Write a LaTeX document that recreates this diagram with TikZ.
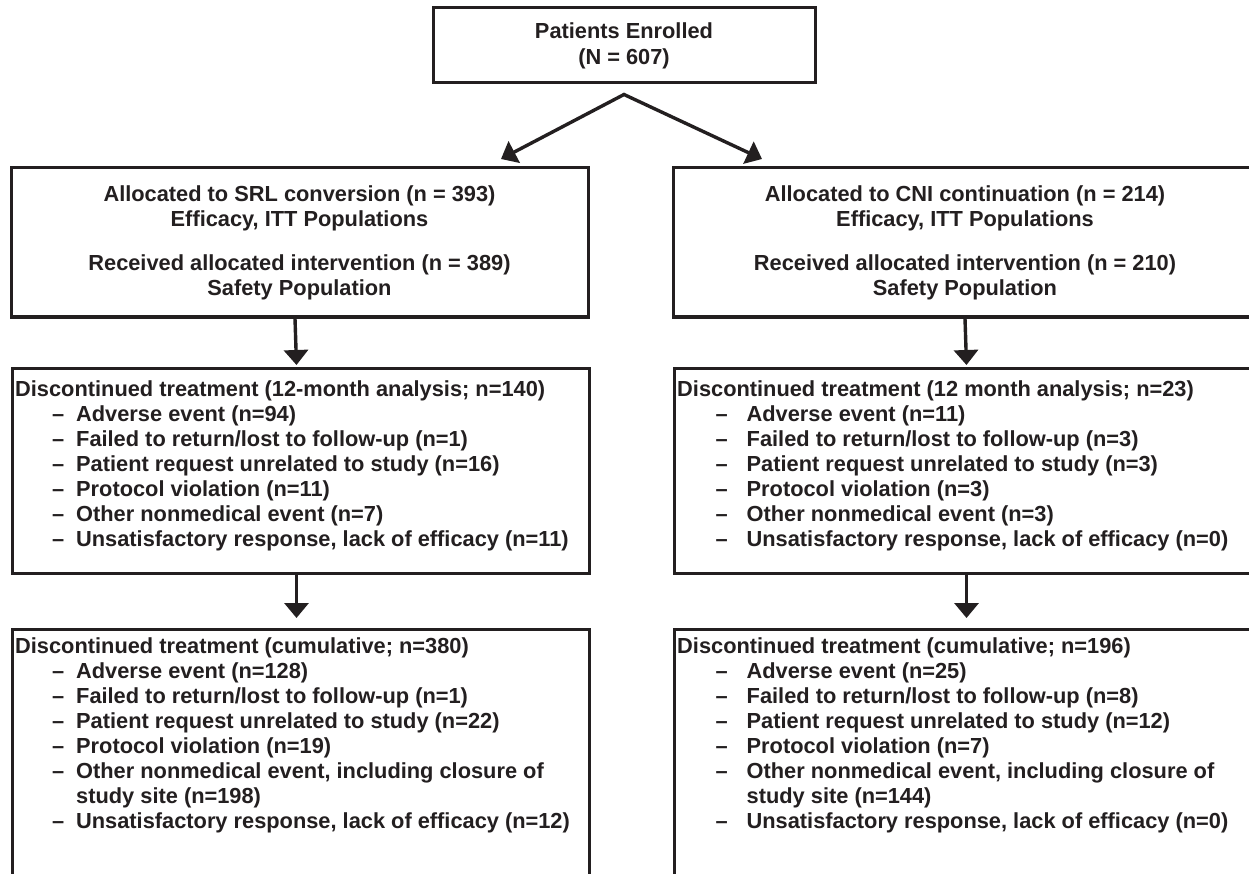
\documentclass[tikz,border=0pt]{standalone}
\usepackage{fontspec}
\setmainfont{Liberation Sans}
\usetikzlibrary{arrows.meta}
\definecolor{ink}{RGB}{35,31,32}
\newcommand\li[1]{\makebox[61pt][l]{\hspace*{37pt}–}#1}
\newcommand\ri[1]{\makebox[69.5pt][l]{\hspace*{38.5pt}–}#1}
\tikzset{
  box/.style={draw=ink, line width=3pt, inner sep=0pt},
  ctext/.style={font=\bfseries\fontsize{21.8}{25}\selectfont, text=ink, align=center},
  ltext/.style={font=\bfseries\fontsize{21.8}{25}\selectfont, text=ink, align=left, inner sep=0pt, anchor=north west},
  arr/.style={draw=ink, line width=3.4pt, -{Triangle[width=24pt,length=15pt]}},
  arrtwo/.style={draw=ink, line width=3.4pt, line join=miter, {Triangle[width=24pt,length=15pt]}-{Triangle[width=24pt,length=15pt]}},
}
\begin{document}
\begin{tikzpicture}[x=1pt,y=-1pt]
\useasboundingbox (0,0) rectangle (1249,874);
\fill[white] (0,0) rectangle (1249,874);
\clip (0,0) rectangle (1249,874);

% top
\node[box, ctext, minimum width=382pt, minimum height=75pt] (top) at (624,45.5)
  {Patients Enrolled\\[1pt](N = 607)};

% allocation boxes
\node[box, ctext, minimum width=577pt, minimum height=149pt] (b1L) at (299.5,242.5)
  {Allocated to SRL conversion (n = 393)\\Efficacy, ITT Populations\\[19pt]Received allocated intervention (n = 389)\\Safety Population};
\node[box, ctext, minimum width=584pt, minimum height=149pt] (b1R) at (965,242.5)
  {Allocated to CNI continuation (n = 214)\\Efficacy, ITT Populations\\[19pt]Received allocated intervention (n = 210)\\Safety Population};

% 12-month boxes
\node[box, anchor=north west, minimum width=577pt, minimum height=205pt] (b2L) at (11,367) {};
\node[box, anchor=north west, minimum width=584pt, minimum height=205pt] (b2R) at (673,367) {};
% cumulative boxes
\node[box, anchor=north west, minimum width=577pt, minimum height=300pt] (b3L) at (11,628) {};
\node[box, anchor=north west, minimum width=584pt, minimum height=300pt] (b3R) at (673,628) {};

\node[ltext] (t2L) at ([xshift=4pt,yshift=-13.5pt]b2L.north west) {%
Discontinued treatment (12-month analysis; n=140)\\
\li{Adverse event (n=94)}\\
\li{Failed to return/lost to follow-up (n=1)}\\
\li{Patient request unrelated to study (n=16)}\\
\li{Protocol violation (n=11)}\\
\li{Other nonmedical event (n=7)}\\
\li{Unsatisfactory response, lack of efficacy (n=11)}};

\node[ltext] (t2R) at ([xshift=4pt,yshift=-13.5pt]b2R.north west) {%
Discontinued treatment (12 month analysis; n=23)\\
\ri{Adverse event (n=11)}\\
\ri{Failed to return/lost to follow-up (n=3)}\\
\ri{Patient request unrelated to study (n=3)}\\
\ri{Protocol violation (n=3)}\\
\ri{Other nonmedical event (n=3)}\\
\ri{Unsatisfactory response, lack of efficacy (n=0)}};

\node[ltext] (t3L) at ([xshift=4pt,yshift=-9.5pt]b3L.north west) {%
Discontinued treatment (cumulative; n=380)\\
\li{Adverse event (n=128)}\\
\li{Failed to return/lost to follow-up (n=1)}\\
\li{Patient request unrelated to study (n=22)}\\
\li{Protocol violation (n=19)}\\
\li{Other nonmedical event, including closure of}\\
\hspace*{61pt}study site (n=198)\\
\li{Unsatisfactory response, lack of efficacy (n=12)}};

\node[ltext] (t3R) at ([xshift=4pt,yshift=-9.5pt]b3R.north west) {%
Discontinued treatment (cumulative; n=196)\\
\ri{Adverse event (n=25)}\\
\ri{Failed to return/lost to follow-up (n=8)}\\
\ri{Patient request unrelated to study (n=12)}\\
\ri{Protocol violation (n=7)}\\
\ri{Other nonmedical event, including closure of}\\
\hspace*{69.5pt}study site (n=144)\\
\ri{Unsatisfactory response, lack of efficacy (n=0)}};

% connectors
\coordinate (apex) at ([yshift=-10pt]top.south);
\coordinate (tipL) at (501,159);
\coordinate (tipR) at (762,159);
\draw[arrtwo] (tipL) -- (apex) -- (tipR);

\draw[arr] ([xshift=-4.5pt]b1L.south) -- ([xshift=-4.5pt,yshift=2pt]b2L.north);
\draw[arr] (b1R.south) -- ([yshift=2pt]b2R.north);
\draw[arr] ([xshift=-4.5pt]b2L.south) -- ([xshift=-4.5pt,yshift=10pt]b3L.north);
\draw[arr] (b2R.south) -- ([yshift=10pt]b3R.north);
\end{tikzpicture}
\end{document}
